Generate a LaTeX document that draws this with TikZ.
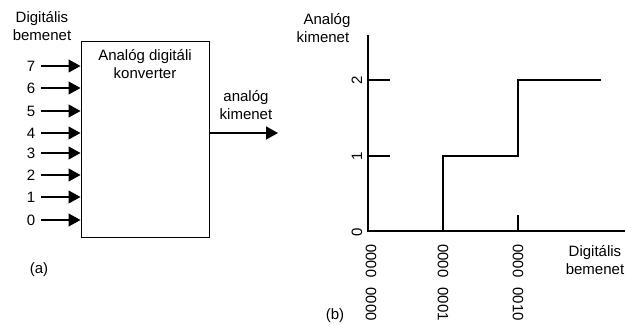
\documentclass[tikz,border=0pt]{standalone}
\usepackage{fontspec}
\setmainfont{Liberation Sans}
\usetikzlibrary{arrows.meta}
\begin{document}
\begin{tikzpicture}[x=1pt,y=-1pt,
  lbl/.style={font=\fontsize{15}{17.5}\selectfont, inner sep=0pt, align=center},
  inarrow/.style={line width=1.3pt, -{Triangle[length=12pt,width=13pt]}},
  axis/.style={line width=1.3pt},
  rot/.style={lbl, rotate=-90},
  rotl/.style={lbl, rotate=90}]
\useasboundingbox (0,0) rectangle (625,326);
% ---------- (a) ----------
\node[lbl] (din) at (42,26) {Digitális\\bemenet};
\node[draw, line width=1pt, minimum width=128pt, minimum height=196pt, inner sep=0pt] (conv) at (145,140) {};
\node[lbl] (title) at (145,64) {Analóg digitáli\\konverter};
\foreach \n/\y in {7/66,6/88,5/111,4/133,3/153,2/175,1/197,0/220}{
  \node[lbl] (b\n) at (31,\y) {\n};
  \draw[inarrow] ([xshift=6pt]b\n.east) -- (b\n -| conv.west);
}
\coordinate (out) at (278,133);
\draw[inarrow] (conv.east |- out) -- (out);
\node[lbl] (outlbl) at (246,105) {analóg\\kimenet};
\node[lbl] (a) at (39,270) {(a)};
% ---------- (b) ----------
\coordinate (O) at (368,231);
\coordinate (ytop) at (368,35);
\coordinate (xend) at (625,231);
\node[lbl] (ylbl) at (323,28) {\hspace*{8pt}Analóg\\kimenet};
\draw[axis] (ytop) -- (O) -- (xend);
\coordinate (y1) at (368,156);
\coordinate (y2) at (368,80);
\draw[axis] (y1) -- ++(22,0);
\draw[axis] (y2) -- ++(22,0);
\node[rotl] (t2) at (357,80) {2};
\node[rotl] (t1) at (357,156) {1};
\node[rotl] (t0) at (357,232) {0};
\coordinate (s1) at (443,231);
\coordinate (s2) at (518,231);
\draw[axis] (s1) -- (443,156) -- (518,156) -- (518,80) -- (601,80);
\draw[axis] (s2) -- ++(0,-16);
\node[rot, anchor=west] (x0) at (371,244) {0000\hspace{10pt}0000};
\node[rot, anchor=west] (x1) at (443,244) {0000\hspace{10pt}0001};
\node[rot, anchor=west] (x2) at (518,244) {0000\hspace{10pt}0010};
\node[lbl] (xlbl) at (595,260) {Digitális\\bemenet};
\node[lbl] (b) at (335,316) {(b)};
\end{tikzpicture}
\end{document}
